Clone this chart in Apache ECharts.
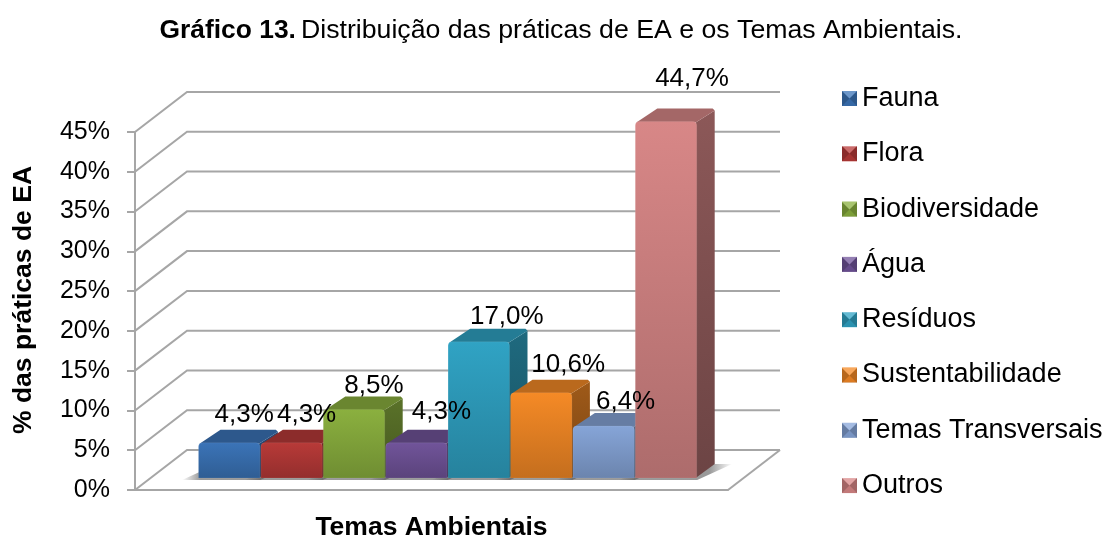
<!DOCTYPE html>
<html>
<head>
<meta charset="utf-8">
<style>html,body{margin:0;padding:0;background:#fff}#c{width:1110px;height:535px}</style>
<script src="https://cdn.jsdelivr.net/npm/echarts@6/dist/echarts.min.js"></script>
</head>
<body>
<div id="c"></div>
<script>
const categories = ['Fauna','Flora','Biodiversidade','Água','Resíduos','Sustentabilidade','Temas Transversais','Outros'];
const values = [4.3,4.3,8.5,4.3,17.0,10.6,6.4,44.7];
const wallTicks = [0,5,10,15,20,25,30,35,40,45];
const colors = ['#3B74B8','#B83A38','#8BB03F','#71549A','#30A3C4','#F58A26','#86A5D8','#D88787'];
// manual nudges of the data labels, as placed in the original chart
const labelNudgeX = [15,15,20,25,28,27,22,26];
const labelNudgeY = [-29,-29,-25,-32,-26,-29,-25,-44];

const FONT = '"Liberation Sans", Arial, sans-serif';
const WALL_DX = 52, WALL_DY = -40, BAR_DX = 19, BAR_DY = -14;
const GRID_COLOR = '#a6a6a6';
const LEG_X = 842, LEG_TOP = 85, LEG_STEP = 55.3, LEG_SIZE = 15, LEG_ROW = 27;

function shade(hex, k){
  const n = parseInt(hex.slice(1),16);
  const c = [n>>16&255, n>>8&255, n&255].map(v=>Math.round(v*k));
  return 'rgb('+c.join(',')+')';
}
function vgrad(a,b){return {type:'linear',x:0,y:0,x2:0,y2:1,colorStops:[{offset:0,color:a},{offset:1,color:b}]};}

function renderWall(params, api){
  const v = api.value(1);
  const p = api.coord([0,v]), e = api.coord([1,v]);
  const children = [{type:'polyline',shape:{points:[p,[p[0]+WALL_DX,p[1]+WALL_DY],[e[0]+WALL_DX,e[1]+WALL_DY]]},
    style:{stroke:GRID_COLOR,lineWidth:2,fill:null}}];
  if(v===0) children.push({type:'line',shape:{x1:e[0],y1:e[1],x2:e[0]+WALL_DX,y2:e[1]+WALL_DY},style:{stroke:GRID_COLOR,lineWidth:2}});
  return {type:'group',children};
}
function renderShadow(params, api){
  const c = api.coord([api.value(0),0]);
  const w = api.size([1,0])[0];
  const x0=c[0]-w/2-16, x1=c[0]+w/2, y=c[1]+2;
  return {type:'polygon',shape:{points:[[x0,y],[x1,y],[x1+BAR_DX+16,y+BAR_DY-2],[x0+BAR_DX+16,y+BAR_DY-2]]},
    style:{fill:{type:'linear',x:0,y:0,x2:1,y2:0,colorStops:[
      {offset:0,color:'rgba(70,70,70,0)'},{offset:.16,color:'rgba(70,70,70,.55)'},
      {offset:.8,color:'rgba(70,70,70,.55)'},{offset:1,color:'rgba(70,70,70,0)'}]}}};
}
function barRenderer(base){
  return function(params, api){
    const top = api.coord([api.value(0),api.value(1)]);
    const bot = api.coord([api.value(0),0]);
    const w = api.size([1,0])[0]-1;
    const x0=top[0]-w/2, x1=top[0]+w/2, yt=top[1], yb=bot[1];
    return {type:'group',children:[
      {type:'polygon',shape:{points:[[x1-1,yt],[x1+BAR_DX-1,yt+BAR_DY+2],[x1+BAR_DX-1,yb+BAR_DY],[x1-1,yb]]},
        style:{fill:vgrad(shade(base,.65),shade(base,.5))}},
      {type:'polygon',shape:{points:[[x0+1,yt],[x0+BAR_DX+3,yt+BAR_DY],[x1+BAR_DX-3,yt+BAR_DY],[x1+BAR_DX-1,yt+BAR_DY+2],[x1-1,yt]]},
        style:{fill:shade(base,.76)}},
      {type:'rect',shape:{x:x0,y:yt-1,width:w,height:yb-yt+1,r:[4,4,0,0]},
        style:{fill:vgrad(base,shade(base,.8)),stroke:'rgba(255,255,255,.08)',lineWidth:1}}
    ]};
  };
}
function renderLabel(params, api){
  const i = api.value(0);
  const p = api.coord([i,api.value(1)]);
  return {type:'text',style:{text:api.value(1).toFixed(1).replace('.',',')+'%',
    x:p[0]+labelNudgeX[i],y:p[1]+labelNudgeY[i],align:'center',verticalAlign:'middle',
    font:'26px '+FONT,fill:'#000'}};
}

const legendBevels = categories.map((c,i)=>{
  const s=LEG_SIZE, m=s/2, y=Math.round(LEG_TOP+LEG_ROW/2-m+i*LEG_STEP);
  return {type:'group',x:LEG_X,y:y,silent:true,children:[
    {type:'polygon',z:100,shape:{points:[[0,0],[m,m],[0,s]]},style:{fill:'rgba(0,0,0,.25)'}},
    {type:'polygon',z:100,shape:{points:[[s,0],[m,m],[s,s]]},style:{fill:'rgba(0,0,0,.25)'}},
    {type:'polygon',z:100,shape:{points:[[0,0],[s,0],[m,m]]},style:{fill:'rgba(255,255,255,.25)'}},
    {type:'polygon',z:100,shape:{points:[[0,s],[s,s],[m,m]]},style:{fill:'rgba(0,0,0,.1)'}}
  ]};
});

const chart = echarts.init(document.getElementById('c'),null,{renderer:'canvas'});
chart.setOption({
  animation:false,
  backgroundColor:'#fff',
  textStyle:{fontFamily:FONT},
  title:{
    left:556,top:12,textAlign:'center',
    text:'{b|Gráfico 13.} {n|Distribuição das práticas de EA e os Temas Ambientais.}',
    textStyle:{rich:{
      b:{fontFamily:FONT,fontSize:26.4,fontWeight:'bold',color:'#000'},
      n:{fontFamily:FONT,fontSize:26.7,fontWeight:'normal',color:'#000'}}}
  },
  legend:{
    orient:'vertical',left:LEG_X,top:LEG_TOP,padding:0,itemWidth:LEG_SIZE,itemHeight:LEG_SIZE,itemGap:LEG_STEP-LEG_ROW,
    selectedMode:false,icon:'rect',data:categories,
    textStyle:{fontFamily:FONT,fontSize:27,color:'#000',lineHeight:LEG_ROW}
  },
  grid:[
    {left:135,width:593,top:132,height:358,outerBoundsMode:'none'},
    {left:198,width:499.2,top:120,height:358,outerBoundsMode:'none'}
  ],
  xAxis:[
    {type:'value',gridIndex:0,min:0,max:1,splitLine:{show:false},axisTick:{show:false},axisLabel:{show:false},
     axisLine:{show:true,onZero:false,lineStyle:{color:GRID_COLOR,width:2}},
     name:'Temas Ambientais',nameLocation:'middle',nameGap:24,
     nameTextStyle:{fontFamily:FONT,fontSize:26.5,fontWeight:'bold',color:'#000'}},
    {type:'category',gridIndex:1,data:categories,show:false}
  ],
  yAxis:[
    {type:'value',gridIndex:0,min:0,max:45,interval:5,splitLine:{show:false},
     axisLine:{show:true,lineStyle:{color:GRID_COLOR,width:2}},
     axisTick:{show:true,length:8,lineStyle:{color:GRID_COLOR,width:2}},
     axisLabel:{formatter:'{value}%',margin:25,fontFamily:FONT,fontSize:25,color:'#000'},
     name:'% das práticas de EA',nameLocation:'middle',nameGap:98,
     nameTextStyle:{fontFamily:FONT,fontSize:26.5,fontWeight:'bold',color:'#000',padding:[0,0,0,22]}},
    {type:'value',gridIndex:1,min:0,max:45,show:false}
  ],
  graphic:{z:10,elements:legendBevels},
  series:[
    {type:'custom',name:'grade',xAxisIndex:0,yAxisIndex:0,z:1,silent:true,clip:false,
     data:wallTicks.map(v=>[0,v]),renderItem:renderWall},
    {type:'custom',name:'sombra',xAxisIndex:1,yAxisIndex:1,z:2,silent:true,clip:false,
     data:values.map((v,i)=>[i,v]),renderItem:renderShadow},
    ...categories.map((name,i)=>({
      type:'custom',name,xAxisIndex:1,yAxisIndex:1,z:3,silent:true,clip:false,
      itemStyle:{color:colors[i]},
      data:[[i,values[i]]],renderItem:barRenderer(colors[i])
    })),
    {type:'custom',name:'rótulos',xAxisIndex:1,yAxisIndex:1,z:5,silent:true,clip:false,
     data:values.map((v,i)=>[i,v]),renderItem:renderLabel}
  ]
});
</script>
</body>
</html>
